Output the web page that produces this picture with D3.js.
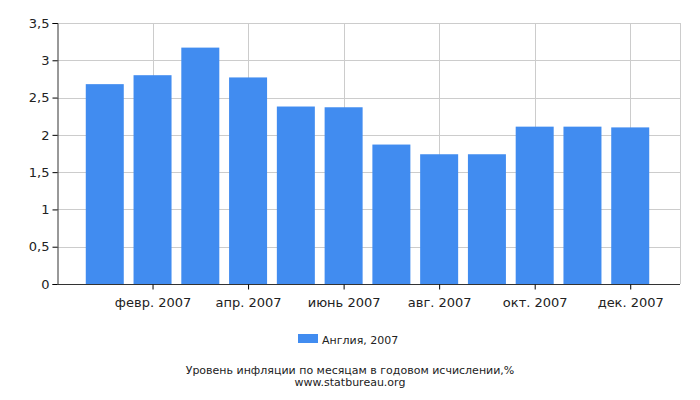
<!DOCTYPE html>
<html><head><meta charset="utf-8">
<script src="https://cdn.jsdelivr.net/npm/d3@7"></script>
<style>body{margin:0;background:#fff;font-family:"DejaVu Sans",sans-serif}</style>
</head><body><div id="chart"></div>
<script>
const months = ["янв. 2007","февр. 2007","март 2007","апр. 2007","май 2007","июнь 2007","июль 2007","авг. 2007","сент. 2007","окт. 2007","нояб. 2007","дек. 2007"];
const values = [2.68, 2.80, 3.17, 2.77, 2.38, 2.37, 1.87, 1.74, 1.74, 2.11, 2.11, 2.10];
const yTicks = [0, 0.5, 1, 1.5, 2, 2.5, 3, 3.5];
const seriesName = "Англия, 2007";

const W = 700, H = 400;
const svg = d3.select("#chart").append("svg").attr("width", W).attr("height", H);
const x = d3.scaleLinear().domain([-1, 12]).range([57, 678]);
const y = d3.scaleLinear().domain([0, 3.5]).range([284, 23]);
const fmt = v => String(v).replace(".", ",");

const grid = svg.append("g").attr("stroke", "#ccc").attr("stroke-width", 1);
yTicks.forEach(t => grid.append("line").attr("x1", 57).attr("x2", 680)
  .attr("y1", Math.round(y(t)) + 0.5).attr("y2", Math.round(y(t)) + 0.5));
months.forEach((m, i) => { if (i % 2 === 1) grid.append("line")
  .attr("x1", Math.round(x(i)) + 0.5).attr("x2", Math.round(x(i)) + 0.5).attr("y1", 23).attr("y2", 284); });
grid.append("line").attr("x1", 680.5).attr("x2", 680.5).attr("y1", 23).attr("y2", 284);

svg.append("g").selectAll("rect").data(values).join("rect")
  .attr("x", (d, i) => x(i) - 19).attr("width", 38)
  .attr("y", d => y(d)).attr("height", d => y(0) - y(d))
  .attr("fill", "#418cf0");

const ya = svg.append("g").attr("transform", "translate(57.5,0)")
  .call(d3.axisLeft(y).tickValues(yTicks).tickFormat(fmt).tickSize(5));
ya.select(".domain").attr("stroke", "#333");
ya.selectAll("text").attr("font-size", 13).attr("fill", "#222").attr("font-family", "DejaVu Sans");

const xa = svg.append("g").attr("transform", "translate(0,284.5)")
  .call(d3.axisBottom(x).tickValues(d3.range(1, 12, 2)).tickFormat(i => months[i]).tickSize(5).tickSizeOuter(0));
xa.select(".domain").attr("stroke", "#333").attr("d", "M57,0H680");
xa.selectAll("text").attr("font-size", 13).attr("fill", "#222").attr("font-family", "DejaVu Sans").attr("dy", "1.1em");

svg.append("rect").attr("x", 298).attr("y", 334).attr("width", 20).attr("height", 9).attr("fill", "#418cf0");
svg.append("text").attr("x", 322).attr("y", 344).attr("font-size", 11).attr("fill", "#222").text(seriesName);
svg.append("text").attr("x", 350).attr("y", 374).attr("text-anchor", "middle").attr("font-size", 11)
  .attr("fill", "#222").text("Уровень инфляции по месяцам в годовом исчислении,%");
svg.append("text").attr("x", 350).attr("y", 386).attr("text-anchor", "middle").attr("font-size", 11)
  .attr("fill", "#222").text("www.statbureau.org");
</script></body></html>
